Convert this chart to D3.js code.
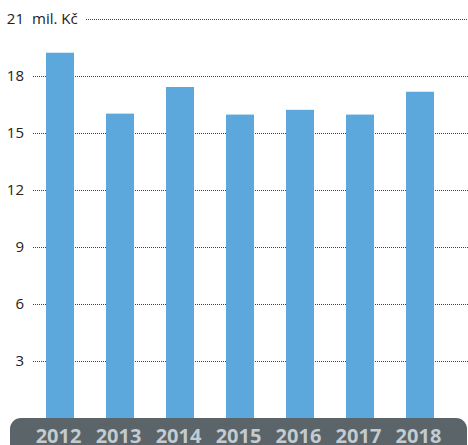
<!DOCTYPE html>
<html>
<head>
<meta charset="utf-8">
<script src="https://cdn.jsdelivr.net/npm/d3@7"></script>
<style>
  body { margin: 0; background: #fff; }
  svg { display: block; }
</style>
</head>
<body>
<svg class="chart" width="468" height="445"></svg>
<script>
let width = 468;
let height = 445;

let years = ["2012", "2013", "2014", "2015", "2016", "2017", "2018"];
let values = [19.2, 16.0, 17.4, 15.95, 16.2, 15.95, 17.15];
let yTicks = [3, 6, 9, 12, 15, 18, 21];
let unitLabel = "mil. Kč";

let svg = d3.select(".chart");

let x = d3.scaleBand()
    .domain(years)
    .range([30, 450])
    .paddingInner(0.5333)
    .paddingOuter(0.2667);

let y = d3.scaleLinear()
    .domain([0, 21])
    .range([418, 18.5]);

// dotted grid lines
svg.append("g")
    .selectAll("line")
    .data(yTicks)
    .join("line")
    .attr("x1", d => d === 21 ? 86 : 33)
    .attr("x2", width)
    .attr("y1", d => Math.round(y(d)) + 0.5)
    .attr("y2", d => Math.round(y(d)) + 0.5)
    .attr("stroke", "#444")
    .attr("stroke-width", 1)
    .attr("stroke-dasharray", "1,1");

// tick labels
svg.append("g")
    .selectAll("text")
    .data(yTicks)
    .join("text")
    .attr("x", 24)
    .attr("y", d => y(d))
    .attr("dy", "0.36em")
    .attr("text-anchor", "end")
    .style("font-family", "Open Sans")
    .style("font-size", "15px")
    .style("fill", "#222")
    .text(d => d);

svg.append("text")
    .attr("x", 32)
    .attr("y", y(21))
    .attr("dy", "0.36em")
    .style("font-family", "Open Sans")
    .style("font-size", "15px")
    .style("fill", "#222")
    .text(unitLabel);

// bars
svg.append("g")
    .selectAll("rect")
    .data(values)
    .join("rect")
    .attr("x", (d, i) => x(years[i]))
    .attr("width", x.bandwidth())
    .attr("y", d => y(d))
    .attr("height", d => y(0) - y(d))
    .attr("fill", "#5ca8dd");

// bottom band with years
svg.append("rect")
    .attr("x", 10)
    .attr("y", y(0))
    .attr("width", 457)
    .attr("height", 40)
    .attr("rx", 11)
    .attr("fill", "#5a6469");

svg.append("g")
    .selectAll("text")
    .data(years)
    .join("text")
    .attr("x", d => x(d) + x.bandwidth() / 2 - 1.5)
    .attr("y", 442.5)
    .attr("text-anchor", "middle")
    .style("font-family", "Open Sans")
    .style("font-weight", "bold")
    .style("font-size", "20px")
    .style("fill", "#c3cbd0")
    .text(d => d);
</script>
</body>
</html>
